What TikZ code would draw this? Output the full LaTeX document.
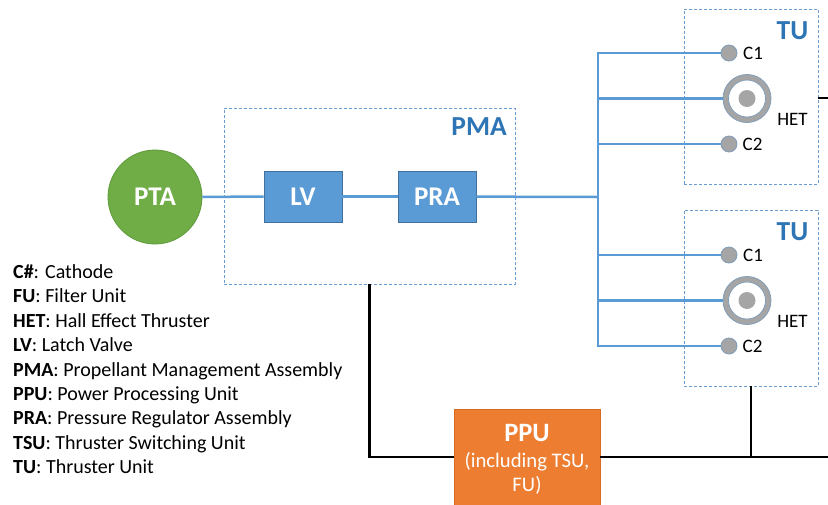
\documentclass[tikz,border=0pt]{standalone}
\usepackage{fontspec}
\setmainfont{Carlito}
\definecolor{lineblue}{HTML}{5B9BD5}
\definecolor{boxblue}{HTML}{5B9BD5}
\definecolor{boxedge}{HTML}{41719C}
\definecolor{dashblue}{HTML}{6A9BD1}
\definecolor{labelblue}{HTML}{2E75B6}
\definecolor{ptagreen}{HTML}{70AD47}
\definecolor{ptaedge}{HTML}{5E9A3A}
\definecolor{ppuorange}{HTML}{ED7D31}
\definecolor{ppuedge}{HTML}{D86A22}
\definecolor{gray1}{HTML}{A5A5A5}
\definecolor{ringedge}{HTML}{7F9DB9}
\begin{document}
\begin{tikzpicture}[x=1pt,y=-1pt,
  bl/.style={draw=lineblue,line width=2.5pt},
  bk/.style={draw=black,line width=2.2pt},
  grp/.style={rectangle,draw=dashblue,line width=0.9pt,dash pattern=on 3pt off 2pt},
  blk/.style={rectangle,fill=boxblue,draw=boxedge,line width=0.8pt,minimum width=78pt,minimum height=51pt,text=white,font=\fontsize{27}{30}\selectfont\bfseries},
  cath/.style={circle,fill=gray1,draw=ringedge,line width=0.8pt,minimum size=16pt,inner sep=0pt},
  sm/.style={font=\fontsize{19}{22}\selectfont,inner sep=0pt},
  grplabel/.style={font=\fontsize{27.5}{30}\selectfont\bfseries,text=labelblue,inner sep=0pt},
  leg/.style={font=\fontsize{20}{24}\selectfont,inner sep=0pt,anchor=base west},
]
\clip (0,0) rectangle (828,504);
\fill[white] (0,0) rectangle (828,504);

% groups
\node[grp,minimum width=291pt,minimum height=176pt] (pma) at (369.5,196) {};
\node[grplabel,anchor=east] (pmal) at (507,127) {PMA};
\node[grp,minimum width=134pt,minimum height=175pt] (tu1) at (751,96.5) {};
\node[grplabel,anchor=east] (tu1l) at (808.5,31) {TU};
\node[grp,minimum width=134pt,minimum height=176pt] (tu2) at (751,298) {};
\node[grplabel,anchor=east] (tu2l) at (808.5,232) {TU};

% main components
\node[circle,fill=ptagreen,draw=ptaedge,line width=0.8pt,minimum size=94pt,inner sep=0pt,text=white,font=\fontsize{27}{30}\selectfont\bfseries] (pta) at (155,197) {PTA};
\node[blk] (lv) at (303,196.5) {LV};
\node[blk] (pra) at (437,196.5) {PRA};
\coordinate (j) at (598,197);

% thruster units
\foreach \k/\yy in {1/0,2/202}{
  \node[cath] (c1\k) at (729,53+\yy) {};
  \node[sm,anchor=west] (c1l\k) at (743,53+\yy) {C1};
  \node[circle,fill=gray1,draw=ringedge,line width=0.8pt,minimum size=48pt,inner sep=0pt] (het\k) at (747,98.5+\yy) {};
  \node[circle,fill=white,draw=ringedge,line width=0.8pt,minimum size=37pt,inner sep=0pt] (heti\k) at (het\k) {};
  \node[circle,fill=gray1,minimum size=17pt,inner sep=0pt] (hetd\k) at (het\k) {};
  \node[sm] (hetl\k) at (792.5,119+\yy) {HET};
  \node[cath] (c2\k) at (729,144+\yy) {};
  \node[sm,anchor=west] (c2l\k) at (742.5,144+\yy) {C2};
}

% propellant lines
\draw[bl] (pta) -- (lv);
\draw[bl] (lv) -- (pra);
\draw[bl] (pra) -- (j);
\draw[bl] (c11.west) -| (j) |- (c22.west);
\draw[bl] (het1.west -| j) -- (het1.west);
\draw[bl] (c21.west -| j) -- (c21.west);
\draw[bl] (c12.west -| j) -- (c12.west);
\draw[bl] (het2.west -| j) -- (het2.west);

% PPU
\node[rectangle,fill=ppuorange,draw=ppuedge,line width=0.8pt,minimum width=146pt,minimum height=97pt,inner sep=0pt] (ppu) at (527,457.5) {};
\node[text=white,font=\fontsize{26.5}{30}\selectfont\bfseries,inner sep=0pt] (ppu1) at (527,433) {PPU};
\node[text=white,font=\fontsize{20.7}{24}\selectfont,inner sep=0pt] (ppu2) at (527,462) {(including TSU,};
\node[text=white,font=\fontsize{20.7}{24}\selectfont,inner sep=0pt] (ppu3) at (527,485) {FU)};

% power lines
\coordinate (out1) at (830,98);
\coordinate (out2) at (830,457);
\draw[bk] (pma.south) |- (ppu.west |- out2);
\draw[bk] (ppu.east |- out2) -- (out2);
\draw[bk] (tu2.south) -- (tu2.south |- out2);
\draw[bk] (tu1.east |- out1) -- (out1);

% legend
\node[leg] (l1) at (13,278.5) {\textbf{C\#}: Cathode};
\node[leg] (l2) at (13,302.9) {\textbf{FU}: Filter Unit};
\node[leg] (l3) at (13,327.3) {\textbf{HET}: Hall Effect Thruster};
\node[leg] (l4) at (13,351.7) {\textbf{LV}: Latch Valve};
\node[leg] (l5) at (13,376.1) {\textbf{PMA}: Propellant Management Assembly};
\node[leg] (l6) at (13,400.5) {\textbf{PPU}: Power Processing Unit};
\node[leg] (l7) at (13,424.9) {\textbf{PRA}: Pressure Regulator Assembly};
\node[leg] (l8) at (13,449.3) {\textbf{TSU}: Thruster Switching Unit};
\node[leg] (l9) at (13,473.7) {\textbf{TU}: Thruster Unit};
\end{tikzpicture}
\end{document}
